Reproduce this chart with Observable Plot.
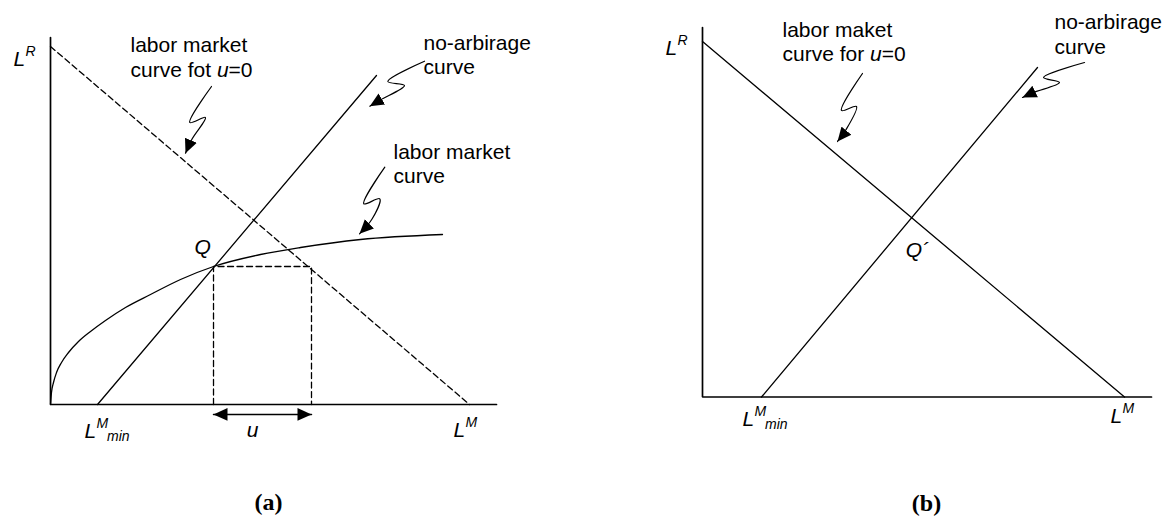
<!DOCTYPE html>
<html><head><meta charset="utf-8">
<script src="https://cdn.jsdelivr.net/npm/d3@7"></script>
<script src="https://cdn.jsdelivr.net/npm/@observablehq/plot@0.6"></script>
<style>
html,body{margin:0;padding:0;background:#fff;}
#wrap{display:flex;width:1164px;height:520px;background:#fff;}
#wrap svg{display:block;}
</style></head><body><div id="wrap"></div>
<script>
// ===== Panel (a): both axes run from 0 to 10 (arbitrary units) =====
const aAxis = [[0, 10], [0, 0], [10, 0]];
const aLaborX = [0, 0.022, 0.067, 0.135, 0.247, 0.404, 0.628, 0.897, 1.233, 1.682, 2.242, 2.915, 3.655, 4.709, 5.605, 6.951, 8.789];
const aLaborY = [0, 0.327, 0.599, 0.872, 1.144, 1.417, 1.717, 1.989, 2.289, 2.643, 2.997, 3.406, 3.760, 4.087, 4.278, 4.496, 4.632];
const aNoArbX = [1.054, 7.309];
const aNoArbY = [0, 8.965];
const aZeroUX = [0, 9.395];
const aZeroUY = [9.755, 0];
const aQ = [3.655, 3.760];
const aUEnd = 5.852;
const aUArrowY = -0.27;
const aConnZeroU = [[3.610, 8.665], [3.123, 7.684], [3.475, 7.820], [3.177, 7.240], [3.027, 6.847]];
const aConnNoArb = [[8.386, 9.354], [7.563, 8.801], [7.937, 8.692], [7.399, 8.302], [7.159, 8.128]];
const aConnLabor = [[7.496, 6.466], [7.025, 5.469], [7.383, 5.605], [7.213, 5.060], [6.928, 4.651]];
const aTexts = [
  {t: "labor market\ncurve fot u=0", x: 1.794, y: 8.937},
  {t: "no-arbirage\ncurve", x: 8.363, y: 8.992},
  {t: "labor market\ncurve", x: 7.691, y: 6.022}
];
const aLR = [-0.83, 9.237];
const aLMmin = [0.762, -0.926];
const aLM = [9.036, -0.899];
const aULabel = [4.53, -0.899];
const aCaption = [4.888, -2.888];

// ===== Panel (b) =====
const bAxis = [[0, 10], [0, 0], [10, 0]];
const bLaborX = [0, 9.399];
const bLaborY = [9.621, 0];
const bNoArbX = [1.314, 7.461];
const bNoArbY = [0, 8.917];
const bQ = [4.659, 4.851];
const bConnLabor = [[3.563, 8.755], [3.096, 7.754], [3.430, 7.862], [3.185, 7.212], [3.007, 6.915]];
const bConnNoArb = [[8.508, 9.053], [7.595, 8.647], [7.951, 8.512], [7.372, 8.241], [7.127, 8.106]];
const bTexts = [
  {t: "labor maket\ncurve for u=0", x: 1.782, y: 9.093},
  {t: "no-arbirage\ncurve", x: 7.840, y: 9.296}
];
const bLR = [-0.824, 9.269];
const bLMmin = [0.891, -0.798];
const bLM = [9.087, -0.717];
const bCaption = [4.989, -3.072];

const FONT = "Liberation Sans, Arial, Helvetica, sans-serif";
const SERIF = "Liberation Serif, Times New Roman, serif";
const LW = 1.3;
const DASH = "6,3.5";

function zip(xs, ys) { return xs.map((x, i) => [x, ys[i]]); }

function mathLabel(pos, sup, sub) {
  const base = {x: "x", y: "y", text: "t", textAnchor: "start", lineAnchor: "bottom",
    fontFamily: FONT, fontStyle: "italic", fill: "black"};
  const d = (t) => [{x: pos[0], y: pos[1], t}];
  const marks = [Plot.text(d("L"), {...base, fontSize: 21}),
                 Plot.text(d(sup), {...base, fontSize: 14, dx: 12, dy: -10})];
  if (sub) marks.push(Plot.text(d(sub), {...base, fontSize: 14, dx: 22.5, dy: 2.5}));
  return marks;
}

function labelMarks(texts) {
  return Plot.text(texts, {x: "x", y: "y", text: "t", textAnchor: "start", lineAnchor: "bottom",
    lineHeight: 1.15, fontFamily: FONT, fontSize: 21, fill: "black"});
}

function connector(pts) {
  return Plot.line(pts, {stroke: "black", strokeWidth: 1.2, curve: "catmull-rom", markerEnd: "arrow"});
}

function caption(pos, t) {
  return Plot.text([{x: pos[0], y: pos[1], t}], {x: "x", y: "y", text: "t", textAnchor: "middle",
    lineAnchor: "bottom", fontFamily: SERIF, fontWeight: "bold", fontSize: 24, fill: "black"});
}

function finish(svg) {
  // filled triangular arrow heads
  d3.select(svg).selectAll("marker")
    .attr("viewBox", "-5 -5 10 10").attr("markerUnits", "userSpaceOnUse")
    .attr("markerWidth", 14).attr("markerHeight", 14).attr("refX", 5).attr("refY", 0)
    .attr("fill", "black").attr("stroke", "none")
    .select("path").attr("d", "M5,0L-5,-4.6L-5,4.6Z");
  // italic u in "u=0"
  const walker = document.createTreeWalker(svg, NodeFilter.SHOW_TEXT);
  const nodes = [];
  while (walker.nextNode()) if (walker.currentNode.nodeValue.includes(" u=0")) nodes.push(walker.currentNode);
  for (const n of nodes) {
    const [before, after] = n.nodeValue.split("u=0");
    const p = n.parentNode;
    const ts = document.createElementNS("http://www.w3.org/2000/svg", "tspan");
    ts.setAttribute("font-style", "italic");
    ts.textContent = "u";
    p.insertBefore(document.createTextNode(before), n);
    p.insertBefore(ts, n);
    p.insertBefore(document.createTextNode("=0" + after), n);
    p.removeChild(n);
  }
  return svg;
}

const common = {width: 582, height: 520,
  x: {domain: [0, 10], axis: null}, y: {domain: [0, 10], axis: null},
  style: {background: "white", overflow: "visible"}};

const plotA = Plot.plot({...common,
  marginLeft: 50, marginRight: 86, marginTop: 37, marginBottom: 116,
  marks: [
    Plot.line(aAxis, {stroke: "black", strokeWidth: 1.7, strokeLinejoin: "miter"}),
    Plot.line(zip(aZeroUX, aZeroUY), {stroke: "black", strokeWidth: LW, strokeDasharray: DASH}),
    Plot.line([[aQ[0], 0], [aQ[0], aQ[1]], [aUEnd, aQ[1]], [aUEnd, 0]], {stroke: "black", strokeWidth: LW, strokeDasharray: DASH}),
    Plot.line(zip(aNoArbX, aNoArbY), {stroke: "black", strokeWidth: LW}),
    Plot.line(zip(aLaborX, aLaborY), {stroke: "black", strokeWidth: LW, curve: "monotone-x"}),
    Plot.line([[aQ[0], aUArrowY], [aUEnd, aUArrowY]], {stroke: "black", strokeWidth: 1.5, markerStart: "arrow-reverse", markerEnd: "arrow"}),
    connector(aConnZeroU), connector(aConnNoArb), connector(aConnLabor),
    labelMarks(aTexts),
    Plot.text([{x: aQ[0], y: aQ[1], t: "Q"}], {x: "x", y: "y", text: "t", textAnchor: "start", lineAnchor: "bottom",
      dx: -19, dy: -13, fontFamily: FONT, fontStyle: "italic", fontSize: 21, fill: "black"}),
    Plot.text([{x: aULabel[0], y: aULabel[1], t: "u"}], {x: "x", y: "y", text: "t", textAnchor: "middle", lineAnchor: "bottom",
      fontFamily: FONT, fontStyle: "italic", fontSize: 21, fill: "black"}),
    ...mathLabel(aLR, "R"),
    ...mathLabel(aLMmin, "M", "min"),
    ...mathLabel(aLM, "M"),
    caption(aCaption, "(a)")
  ]
});

const plotB = Plot.plot({...common,
  marginLeft: 120, marginRight: 13, marginTop: 27, marginBottom: 123.5,
  marks: [
    Plot.line(bAxis, {stroke: "black", strokeWidth: 1.7, strokeLinejoin: "miter"}),
    Plot.line(zip(bLaborX, bLaborY), {stroke: "black", strokeWidth: LW}),
    Plot.line(zip(bNoArbX, bNoArbY), {stroke: "black", strokeWidth: LW}),
    connector(bConnLabor), connector(bConnNoArb),
    labelMarks(bTexts),
    Plot.text([{x: bQ[0], y: bQ[1], t: "Q\u00B4"}], {x: "x", y: "y", text: "t", textAnchor: "start", lineAnchor: "bottom",
      dx: -6, dy: 39, fontFamily: FONT, fontStyle: "italic", fontSize: 21, fill: "black"}),
    ...mathLabel(bLR, "R"),
    ...mathLabel(bLMmin, "M", "min"),
    ...mathLabel(bLM, "M"),
    caption(bCaption, "(b)")
  ]
});

const wrap = document.getElementById("wrap");
wrap.appendChild(finish(plotA));
wrap.appendChild(finish(plotB));
</script></body></html>
